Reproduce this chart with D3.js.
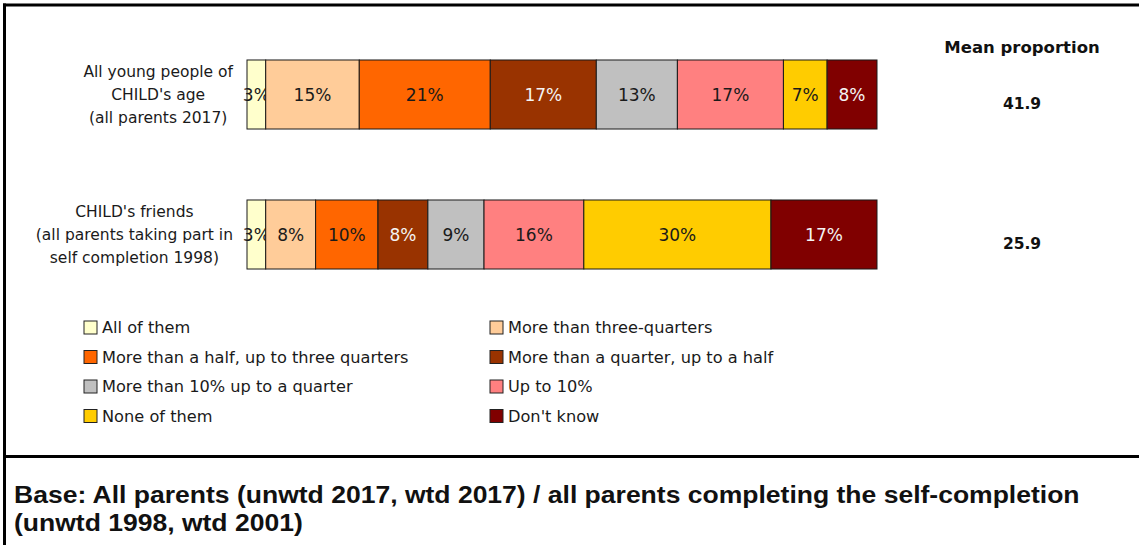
<!DOCTYPE html>
<html>
<head>
<meta charset="utf-8">
<script src="https://cdn.jsdelivr.net/npm/d3@7"></script>
<style>
  html, body { margin: 0; padding: 0; background: #fff; }
  svg { display: block; }
</style>
</head>
<body>
<svg id="chart" width="1139" height="545"></svg>
<script>
// Answer categories, in stacking order
const answers = [
  "All of them",
  "More than three-quarters",
  "More than a half, up to three quarters",
  "More than a quarter, up to a half",
  "More than 10% up to a quarter",
  "Up to 10%",
  "None of them",
  "Don't know"
];
const answerColors = ["#FFFFCC", "#FFCC99", "#FF6600", "#993300", "#C0C0C0", "#FF8080", "#FFCC00", "#800000"];
const darkSegments = ["More than a quarter, up to a half", "Don't know"];

// Groups (one bar each), with their multi-line labels
const groups = ["age", "friends"];
const groupLabels = [
  ["All young people of", "CHILD's age", "(all parents 2017)"],
  ["CHILD's friends", "(all parents taking part in", "self completion 1998)"]
];

// Percentages per group, in answer order
const agePercents = [3, 15, 21, 17, 13, 17, 7, 8];
const friendsPercents = [3, 8, 10, 8, 9, 16, 30, 17];

// Mean proportion per group
const meanTitle = "Mean proportion";
const meanValues = [41.9, 25.9];

const baseLines = [
  "Base: All parents (unwtd 2017, wtd 2017) / all parents completing the self-completion",
  "(unwtd 1998, wtd 2001)"
];

const svg = d3.select("#chart");
const FONT = "'DejaVu Sans', Verdana, sans-serif";

// Frame lines
const frame = svg.append("g").attr("stroke", "#000").attr("stroke-width", 3);
frame.append("line").attr("x1", 4.5).attr("x2", 4.5).attr("y1", 3.5).attr("y2", 545);
frame.append("line").attr("x1", 3).attr("x2", 1139).attr("y1", 5).attr("y2", 5);
frame.append("line").attr("x1", 3).attr("x2", 1139).attr("y1", 456.5).attr("y2", 456.5);

// Table of rows for stacking
const rows = groups.map((g, i) => {
  const vals = i === 0 ? agePercents : friendsPercents;
  const r = { group: g };
  answers.forEach((a, j) => r[a] = vals[j]);
  return r;
});

const series = d3.stack().keys(answers).offset(d3.stackOffsetExpand)(rows);

const x = d3.scaleLinear().domain([0, 1]).range([247, 877]);
const y = d3.scaleBand().domain(groups).range([24.5, 304.5]).paddingInner(0.507).paddingOuter(0.2535);
const color = d3.scaleOrdinal().domain(answers).range(answerColors);

const barG = svg.append("g");
series.forEach(s => {
  const layer = barG.append("g");
  layer.selectAll("rect").data(s).join("rect")
    .attr("x", d => x(d[0]))
    .attr("y", d => y(d.data.group))
    .attr("width", d => x(d[1]) - x(d[0]))
    .attr("height", y.bandwidth())
    .attr("fill", color(s.key))
    .attr("stroke", "#1a1a1a")
    .attr("stroke-width", 1);
  layer.selectAll("text").data(s).join("text")
    .attr("x", d => (x(d[0]) + x(d[1])) / 2)
    .attr("y", d => y(d.data.group) + y.bandwidth() / 2)
    .attr("dy", "0.36em")
    .attr("text-anchor", "middle")
    .attr("font-family", FONT)
    .attr("font-size", 17)
    .attr("fill", darkSegments.includes(s.key) ? "#f4f4f4" : "#1a1a1a")
    .text(d => d.data[s.key] + "%");
});

// Group labels: centered lines, block right edge aligned
const labelRight = 233;
groups.forEach((g, i) => {
  const t = svg.append("text")
    .attr("font-family", FONT)
    .attr("font-size", 15.5)
    .attr("fill", "#1a1a1a")
    .attr("text-anchor", "middle");
  const lines = groupLabels[i];
  const cy = y(g) + y.bandwidth() / 2;
  const spans = lines.map((ln, k) => t.append("tspan")
    .attr("y", cy + (k - (lines.length - 1) / 2) * 23)
    .attr("dy", "0.36em")
    .text(ln));
  const maxW = d3.max(spans, s => s.node().getComputedTextLength());
  spans.forEach(s => s.attr("x", labelRight - maxW / 2));
});

// Mean proportion column
svg.append("text")
  .attr("x", 1022).attr("y", 47).attr("dy", "0.36em")
  .attr("text-anchor", "middle")
  .attr("font-family", FONT).attr("font-weight", "bold").attr("font-size", 16.5)
  .attr("fill", "#111")
  .text(meanTitle);
svg.append("g").selectAll("text").data(groups).join("text")
  .attr("x", 1022)
  .attr("y", d => y(d) + y.bandwidth() / 2 + 9)
  .attr("dy", "0.36em")
  .attr("text-anchor", "middle")
  .attr("font-family", FONT).attr("font-weight", "bold").attr("font-size", 15.5)
  .attr("fill", "#111")
  .text((d, i) => meanValues[i].toFixed(1));

// Legend: two columns, four rows
const legendCols = [84, 490];
const legendRows = [327.5, 357, 386.5, 416];
const legend = svg.append("g").selectAll("g").data(answers).join("g")
  .attr("transform", (d, i) => `translate(${legendCols[i % 2]},${legendRows[Math.floor(i / 2)]})`);
legend.append("rect")
  .attr("x", 0).attr("y", -6.5).attr("width", 13).attr("height", 13)
  .attr("fill", d => color(d))
  .attr("stroke", "#222").attr("stroke-width", 1);
legend.append("text")
  .attr("x", 18).attr("y", 0).attr("dy", "0.36em")
  .attr("font-family", FONT).attr("font-size", 16.2)
  .attr("fill", "#1a1a1a")
  .text(d => d);

// Base note, condensed to the frame width
const note = svg.append("g");
const noteText = note.selectAll("text").data(baseLines).join("text")
  .attr("x", 0)
  .attr("y", (d, i) => 503 + i * 28.5)
  .attr("font-family", "'Liberation Sans', Arial, sans-serif")
  .attr("font-weight", "bold")
  .attr("font-size", 24)
  .attr("fill", "#111")
  .text(d => d);
const natural = noteText.nodes()[0].getComputedTextLength();
const sx = 1066 / natural;
note.attr("transform", `translate(14,0) scale(${sx},1)`);
</script>
</body>
</html>
